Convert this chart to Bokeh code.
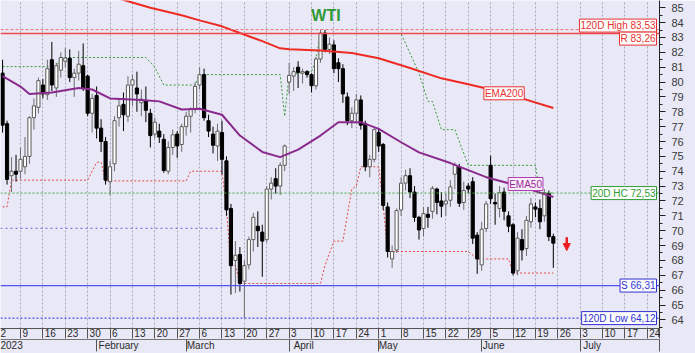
import numpy as np
import pandas as pd
from bokeh.plotting import figure
from bokeh.models import (ColumnDataSource, Range1d, LinearAxis, FixedTicker, SingleIntervalTicker,
                          Label, Span, Grid, Arrow, NormalHead)
from bokeh.embed import file_html
from bokeh.resources import INLINE

# ---------------- data ----------------
# one slot per weekday, index 0 = Mon 2 Jan 2023; bars run Tue 3 Jan .. Fri 23 Jun
opens = [80.6, 77.2, 73.7, 74.0, 74.0, 74.3, 75.0, 77.6, 78.3, 79.8,
         79.15, 81.5, 79.6, 80.8, 81.4, 81.6, 80.3, 80.6, 81.1, 80.4,
         77.9, 79.1, 76.9, 76.0, 73.3, 74.5, 77.6, 78.5, 77.7, 79.8,
         79.6, 78.6, 78.75, 77.9, 76.5, 76.7, 76.15, 74.0, 75.6, 76.5,
         75.8, 77.0, 77.7, 78.15, 79.8, 80.5, 77.4, 76.5, 75.7, 76.6,
         74.7, 71.5, 68.0, 68.4, 66.6, 67.7, 69.4, 70.3, 69.9, 69.4,
         72.8, 73.5, 73.0, 74.4, 80.0, 80.4, 81.0, 80.6, 80.7, 80.5,
         79.75, 81.55, 83.3, 82.2, 82.5, 81.3, 80.9, 79.0, 77.4, 77.9,
         78.8, 77.2, 74.3, 74.8, 76.6, 75.8, 71.6, 68.1, 68.7, 71.4,
         73.2, 73.7, 72.6, 70.9, 70.15, 71.1, 71.3, 72.8, 72.0, 71.8,
         72.05, 73.8, 74.3, 71.9, 73.0, 73.3, 69.7, 67.7, 70.15, 74.4,
         71.9, 71.5, 72.6, 71.0, 70.4, 67.3, 69.4, 68.8, 70.6, 71.6,
         71.5, 71.0, 72.5, 69.6]
highs = [81.5, 77.4, 74.95, 75.1, 75.6, 76.3, 77.7, 78.9, 80.3, 80.2,
         81.5, 82.7, 81.3, 82.0, 82.3, 82.2, 80.9, 82.1, 82.6, 80.5,
         79.2, 79.7, 77.5, 76.3, 74.7, 77.7, 78.9, 79.3, 80.4, 80.5,
         80.7, 79.5, 79.7, 78.2, 77.6, 77.2, 76.5, 76.0, 76.8, 76.7,
         77.2, 78.0, 78.3, 80.0, 81.0, 80.9, 77.8, 77.0, 77.2, 77.4,
         75.0, 71.8, 69.3, 68.9, 68.0, 69.6, 71.2, 71.3, 70.4, 73.0,
         73.6, 74.2, 74.6, 75.8, 81.3, 81.0, 81.4, 80.9, 80.8, 80.6,
         81.7, 83.53, 83.5, 83.0, 82.8, 81.6, 81.2, 79.3, 78.3, 79.2,
         79.1, 77.4, 75.1, 76.9, 76.9, 75.9, 71.9, 69.0, 71.5, 73.6,
         74.1, 74.2, 73.0, 71.0, 71.6, 71.6, 73.0, 72.9, 72.6, 72.5,
         73.4, 74.6, 74.5, 73.3, 73.2, 73.6, 69.9, 70.6, 72.0, 75.05,
         72.5, 73.0, 72.9, 71.3, 70.5, 69.9, 70.1, 71.0, 72.2, 71.9,
         72.1, 72.8, 72.7, 69.8]
lows = [76.6, 73.1, 72.6, 73.3, 73.5, 73.8, 74.5, 76.8, 77.9, 78.9,
        78.8, 79.4, 79.0, 80.3, 81.0, 80.0, 79.0, 80.1, 79.4, 77.7,
        76.6, 76.2, 75.3, 73.1, 72.4, 74.0, 77.0, 76.7, 77.3, 78.4,
        78.0, 77.7, 77.3, 75.6, 76.2, 75.9, 73.9, 73.8, 75.1, 74.9,
        75.3, 76.4, 76.6, 77.9, 79.5, 77.4, 76.3, 75.2, 74.7, 73.8,
        71.0, 65.7, 65.8, 65.9, 64.12, 67.4, 68.6, 68.9, 66.9, 69.2,
        72.1, 72.5, 72.4, 74.0, 79.2, 79.4, 79.6, 79.9, 80.3, 79.3,
        79.5, 81.3, 82.0, 81.9, 80.6, 80.0, 78.6, 77.1, 76.9, 77.2,
        76.8, 74.0, 73.6, 74.6, 75.3, 71.4, 68.2, 67.5, 68.5, 71.0,
        72.7, 72.2, 70.6, 69.4, 69.6, 70.2, 70.8, 71.1, 70.9, 71.0,
        71.6, 72.8, 71.6, 71.4, 72.5, 69.1, 67.1, 67.3, 69.9, 71.8,
        70.4, 70.9, 70.7, 69.9, 67.0, 67.0, 68.0, 68.3, 70.2, 70.9,
        70.1, 70.6, 69.3, 67.5]
closes = [77.1, 73.45, 74.0, 73.8, 74.8, 75.0, 77.6, 78.4, 80.1, 79.2,
          80.9, 79.8, 81.1, 81.65, 81.62, 80.3, 80.6, 81.2, 79.6, 77.9,
          78.9, 76.9, 76.0, 73.4, 74.3, 77.4, 78.4, 77.8, 79.8, 80.15,
          79.2, 78.85, 78.1, 76.4, 77.3, 76.3, 74.05, 75.6, 76.45, 75.7,
          77.0, 77.7, 78.15, 79.7, 80.5, 77.6, 76.7, 75.75, 76.7, 74.8,
          71.4, 67.65, 68.35, 66.45, 67.65, 69.4, 70.9, 70.0, 69.3, 72.8,
          73.2, 73.0, 74.4, 75.7, 80.45, 80.7, 80.65, 80.7, 80.5, 79.75,
          81.55, 83.3, 82.2, 82.55, 80.9, 80.9, 79.2, 77.4, 77.9, 78.8,
          77.1, 74.3, 74.8, 76.8, 75.7, 71.7, 68.6, 68.6, 71.35, 73.2,
          73.7, 72.6, 70.9, 70.05, 71.15, 70.9, 72.85, 71.9, 71.65, 72.0,
          72.95, 74.4, 71.85, 72.7, 72.8, 69.5, 68.1, 70.1, 71.8, 72.15,
          71.8, 72.55, 71.3, 70.3, 67.15, 69.5, 68.7, 70.7, 71.8, 71.45,
          70.6, 72.55, 69.6, 69.16]
bar_idx = list(range(1, len(closes) + 1))

# moving averages read at knots (slot index, value)
ema200_i = [26, 34, 41, 45, 50, 54, 59, 63, 65, 72, 79, 85, 92, 99, 105, 110, 117, 124]
ema200_v = [85.7, 85.0, 84.5, 84.15, 83.75, 83.3, 82.75, 82.27, 82.2, 82.12, 81.95, 81.6,
            80.95, 80.25, 79.85, 79.5, 78.9, 78.25]
ema50_i = [1, 5, 7, 12, 18, 21, 25, 32, 36, 41, 45, 50, 54, 59, 63, 67, 72, 76, 81, 85,
           90, 94, 101, 109, 117, 124]
ema50_v = [80.4, 79.7, 79.2, 79.3, 79.6, 79.5, 78.9, 78.8, 78.7, 78.15, 78.2, 77.8, 76.4,
           75.3, 74.95, 75.45, 76.4, 77.3, 77.3, 76.85, 75.95, 75.27, 74.55, 73.6, 72.95, 72.27]

# 20-day highest close / lowest close channels (slot index, value)
hc_i = [1, 13, 14, 33, 35, 37, 44, 45, 63, 64, 65, 70, 71, 72, 90, 94, 96, 97, 99, 102,
        105, 120, 121, 124]
hc_v = [81.04, 81.04, 81.65, 81.65, 81.0, 79.8, 79.8, 80.5, 80.5, 77.7, 80.5, 80.7, 81.55,
        83.26, 83.26, 80.6, 78.7, 78.7, 76.8, 76.8, 74.4, 74.4, 72.53, 72.53]
lc_i = [1, 2, 3, 20, 22, 23, 24, 42, 43, 50, 51, 52, 53, 54, 72, 73, 75, 77, 79, 80, 81,
        85, 86, 87, 105, 107, 114, 115, 124]
lc_v = [71.6, 71.6, 73.4, 73.4, 74.6, 74.6, 73.35, 73.35, 74.0, 74.0, 71.4, 67.65, 67.65,
        66.45, 66.45, 67.65, 69.3, 69.3, 72.8, 73.0, 74.3, 74.3, 71.7, 68.6, 68.6, 68.1,
        68.1, 67.15, 67.15]

# horizontal levels
level_names = ["120D High", "R", "20D HC", "S", "120D Low"]
level_values = [83.53, 83.26, 72.53, 66.31, 64.12]
old_support = 70.15
old_support_end = 50

# axis labels
week_days = ["2", "9", "16", "23", "30", "6", "13", "20", "27", "6", "13", "20", "27",
             "3", "10", "17", "24", "1", "8", "15", "22", "29", "5", "12", "19", "26",
             "3", "10", "17", "24"]
week_idx = [5 * k for k in range(len(week_days))]
month_names = ["2023", "February", "March", "April", "May", "June", "July"]
month_idx = [0, 22, 42, 65, 85, 108, 130]

# ---------------- styling / geometry ----------------
W, H = 695, 353
FRAME_W, FRAME_H = 659, 331
PX_X = 4.4775          # px per weekday slot
PX_Y = 15.0            # px per price unit
X0 = 2.39 / PX_X
X1 = X0 + FRAME_W / PX_X
Y1 = 85 + 7.3 / PX_Y
Y0 = Y1 - FRAME_H / PX_Y

BG = "#e8e8f7"
FONT = "Liberation Sans"
RED = "#ee2b22"
GREEN = "#2e9a36"
PURPLE = "#8a2a8c"

p = figure(width=W, height=H, x_range=Range1d(X0, X1), y_range=Range1d(Y0, Y1),
           x_axis_location=None, y_axis_location=None,
           output_backend="svg", toolbar_location=None,
           min_border_left=0, min_border_top=0, min_border_right=W - FRAME_W,
           min_border_bottom=H - FRAME_H,
           background_fill_color=BG, border_fill_color=BG, outline_line_color=None)
p.grid.visible = False

p.add_layout(Grid(dimension=0, ticker=FixedTicker(ticks=week_idx),
                  grid_line_color="#a6a6b8", grid_line_dash="2 2", grid_line_width=1))

# level lines
level_styles = [dict(line_color="#f07070", line_dash="3 2", line_width=1),
                dict(line_color="#f04848", line_dash="solid", line_width=1.5),
                dict(line_color="#3fae3f", line_dash="2 2", line_width=1),
                dict(line_color="#5252f0", line_dash="solid", line_width=1.2),
                dict(line_color="#4c4cf0", line_dash="2 2", line_width=1.2)]
for v, st in zip(level_values, level_styles):
    p.add_layout(Span(location=v, dimension="width", **st))

p.segment(x0=[X0], y0=[old_support], x1=[old_support_end], y1=[old_support],
          line_color="#7c7ce8", line_dash="2 3", line_width=1.2)

# channels
p.line(hc_i, hc_v, line_color="#3a9a3a", line_dash="2 2", line_width=1)
p.line(lc_i, lc_v, line_color="#e24a4a", line_dash="2 2", line_width=1)

# candles
up = [c >= o for o, c in zip(opens, closes)]
src = ColumnDataSource(dict(
    i=bar_idx, h=highs, l=lows,
    top=[max(o, c) for o, c in zip(opens, closes)],
    bot=[min(o, c) for o, c in zip(opens, closes)],
    fill=["white" if u else "black" for u in up],
    line=["#5a5a5a" if u else "black" for u in up],
    wick=["#6e6e6e" if u else "black" for u in up]))
p.segment(x0="i", y0="l", x1="i", y1="h", line_color="wick", line_width=1, source=src)
p.vbar(x="i", width=0.7, top="top", bottom="bot", fill_color="fill", line_color="line",
       line_width=1, source=src)

# moving averages
p.line(ema200_i, ema200_v, line_color=RED, line_width=2)
p.line(ema50_i, ema50_v, line_color=PURPLE, line_width=2)

# ---------------- axes ----------------
yax = LinearAxis(ticker=SingleIntervalTicker(interval=1, num_minor_ticks=2),
                 major_tick_out=6, major_tick_in=0, minor_tick_out=3, minor_tick_in=0,
                 major_label_standoff=6, major_label_text_font=FONT,
                 major_label_text_font_size="11px", major_label_text_color="#3a3a3a",
                 axis_line_color="#222222", major_tick_line_color="#222222",
                 minor_tick_line_color="#222222")
p.add_layout(yax, "right")


def label_pos(idx, text, char_w):
    return round(idx + (2 + 0.5 * char_w * len(text)) / PX_X, 4)


day_pos = [label_pos(i, t, 5.5) for i, t in zip(week_idx, week_days)]
ax1 = LinearAxis(ticker=FixedTicker(ticks=day_pos, minor_ticks=week_idx[1:] + [X1 - 0.05]),
                 major_label_overrides={pos: t for pos, t in zip(day_pos, week_days)},
                 major_tick_out=0, major_tick_in=0, minor_tick_out=10, minor_tick_in=0,
                 minor_tick_line_color="#555555", axis_line_color="#555555",
                 major_label_standoff=-10, major_label_text_font=FONT,
                 major_label_text_font_size="10px", major_label_text_color="#2a2a2a")
p.add_layout(ax1, "below")

mon_pos = [label_pos(max(i, X0 - 0.4), t, 5.0) for i, t in zip(month_idx, month_names)]
ax2 = LinearAxis(ticker=FixedTicker(ticks=mon_pos, minor_ticks=month_idx[1:] + [X1 - 0.05]),
                 major_label_overrides={pos: t for pos, t in zip(mon_pos, month_names)},
                 major_tick_out=0, major_tick_in=0, minor_tick_out=12, minor_tick_in=0,
                 minor_tick_line_color="#555555", axis_line_color="#777777",
                 major_label_standoff=-12, major_label_text_font=FONT,
                 major_label_text_font_size="10px", major_label_text_color="#2a2a2a")
p.add_layout(ax2, "below")

# ---------------- labels ----------------
level_colors = ["#e83030", "#e83030", "#2e9a36", "#3030d8", "#3030d8"]
level_yoff = [4, -5, 0, 0, 0]
for name, v, col, yo in zip(level_names, level_values, level_colors, level_yoff):
    txt = f"{name} {v:.2f}".replace(".", ",")
    p.add_layout(Label(x=X1, y=v, x_offset=-3, y_offset=yo, text=txt, text_align="right",
                       text_baseline="middle", text_font=FONT, text_font_size="10px",
                       text_color=col, background_fill_color="white",
                       border_line_color=col, border_line_width=1, padding=1))

x_e200 = 113
p.add_layout(Label(x=x_e200, y=float(np.interp(x_e200, ema200_i, ema200_v)), text="EMA200",
                   text_align="center", text_baseline="middle", text_font=FONT,
                   text_font_size="10px", text_color="#e83030", background_fill_color="white",
                   border_line_color="#e83030", padding=1))
x_e50 = 117.8
p.add_layout(Label(x=x_e50, y=float(np.interp(x_e50, ema50_i, ema50_v)), y_offset=4,
                   text="EMA50", text_align="center", text_baseline="middle", text_font=FONT,
                   text_font_size="10px", text_color="#9a2a9a", background_fill_color="#fbeefb",
                   border_line_color="#b040b0", padding=1))

p.add_layout(Label(x=(X0 + X1) / 2, y=Y1, x_offset=-4, y_offset=-15, text="WTI",
                   text_align="center", text_baseline="middle", text_font=FONT,
                   text_font_size="16px", text_font_style="bold", text_color=GREEN))

# last price tag on the price axis
p.add_layout(Label(x=X1, y=closes[-1], x_offset=2, text=f"{closes[-1]:.4f}",
                   text_align="left", text_baseline="middle", text_font=FONT,
                   text_font_size="8px", text_color="#ff3030", background_fill_color="black",
                   padding=1))

# down arrow after the last bar
ax_ = bar_idx[-1] + 3
p.add_layout(Arrow(end=NormalHead(size=7, fill_color="#ee1c1c", line_color="#ee1c1c"),
                   x_start=ax_, y_start=closes[-1] + 0.4, x_end=ax_, y_end=closes[-1] - 0.5,
                   line_color="#ee1c1c", line_width=2.5))

open("out.html", "w").write(file_html(p, INLINE))
